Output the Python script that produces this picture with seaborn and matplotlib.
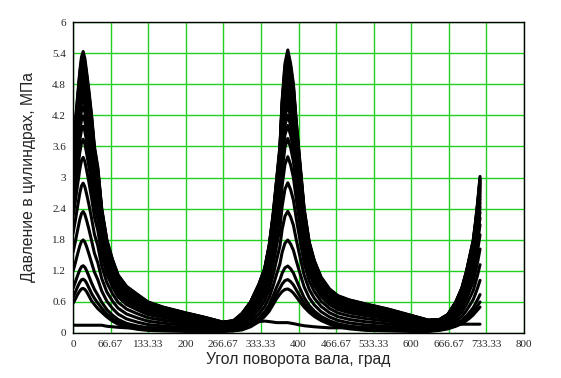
import numpy as np
import pandas as pd
import matplotlib
matplotlib.use("Agg")
import matplotlib.pyplot as plt
import seaborn as sns

# crank angle grid (deg)
angle = [0, 4, 8, 12, 15, 18, 21, 24, 28, 33,
         38, 44, 51, 60, 70, 80, 95, 115, 133, 160,
         200, 235, 266, 285, 300, 315, 330, 340, 348, 355,
         361, 367, 371, 376, 381, 386, 391, 396, 400, 405,
         410, 419, 428, 440, 455, 470, 490, 520, 560, 600,
         630, 650, 665, 679, 690, 698, 705, 710, 714, 718,
         722]

# highest curve of the family, MPa
p_top = [3.6, 4.05, 4.55, 5.05, 5.32, 5.43, 5.3, 5.05, 4.7, 4.2,
         3.6, 3.2, 2.4, 1.8, 1.42, 1.12, 0.9, 0.74, 0.6, 0.5,
         0.39, 0.3, 0.21, 0.24, 0.38, 0.6, 0.95, 1.25, 1.7, 2.3,
         2.95, 3.6, 4.5, 5.2, 5.46, 5.2, 4.8, 4.1, 3.6, 3.0,
         2.4, 1.76, 1.4, 1.08, 0.85, 0.72, 0.64, 0.56, 0.46, 0.34,
         0.25, 0.26, 0.36, 0.6, 0.88, 1.2, 1.55, 1.8, 2.15, 2.55,
         3.02]

# lowest curve of the family, MPa
p_low = [0.57, 0.65, 0.74, 0.81, 0.85, 0.86, 0.84, 0.8, 0.72, 0.62,
         0.55, 0.47, 0.4, 0.31, 0.23, 0.17, 0.11, 0.07, 0.05, 0.04,
         0.03, 0.03, 0.03, 0.04, 0.06, 0.12, 0.22, 0.32, 0.42, 0.55,
         0.66, 0.75, 0.8, 0.84, 0.85, 0.82, 0.77, 0.7, 0.64, 0.57,
         0.5, 0.4, 0.32, 0.24, 0.17, 0.12, 0.08, 0.05, 0.04, 0.03,
         0.03, 0.05, 0.08, 0.13, 0.18, 0.24, 0.3, 0.35, 0.4, 0.45,
         0.5]

# the nearly flat line along the bottom, MPa
p_flat = [0.15, 0.15, 0.15, 0.15, 0.15, 0.15, 0.15, 0.15, 0.15, 0.15,
          0.15, 0.15, 0.15, 0.13, 0.12, 0.11, 0.1, 0.1, 0.1, 0.1,
          0.1, 0.1, 0.1, 0.12, 0.16, 0.2, 0.22, 0.23, 0.22, 0.21,
          0.2, 0.2, 0.2, 0.2, 0.2, 0.19, 0.18, 0.17, 0.16, 0.15,
          0.14, 0.13, 0.12, 0.11, 0.1, 0.1, 0.1, 0.1, 0.1, 0.1,
          0.1, 0.12, 0.15, 0.17, 0.17, 0.17, 0.17, 0.17, 0.17, 0.17,
          0.17]

# peak pressures of the individual curves, MPa
peaks = [0.86, 1.04, 1.3, 1.8, 2.35, 2.9, 3.4, 3.75, 4.0, 4.2,
         4.38, 4.52, 4.65, 4.76, 4.86, 4.95, 5.03, 5.1, 5.17, 5.23,
         5.29, 5.34, 5.39, 5.45]

x_ticks = [0, 66.67, 133.33, 200, 266.67, 333.33, 400, 466.67, 533.33, 600,
           666.67, 733.33, 800]
x_labels = ["0", "66.67", "133.33", "200", "266.67", "333.33", "400", "466.67",
            "533.33", "600", "666.67", "733.33", "800"]
y_ticks = [0, 0.6, 1.2, 1.8, 2.4, 3, 3.6, 4.2, 4.8, 5.4, 6]
y_labels = ["0", "0.6", "1.2", "1.8", "2.4", "3", "3.6", "4.2", "4.8", "5.4", "6"]

# build the long table: each curve sits between the lowest and highest one
a = np.array(angle)
top = np.array(p_top)
low = np.array(p_low)
rows = []
for i, pk in enumerate(peaks):
    w = (pk - peaks[0]) / (peaks[-1] - peaks[0])
    rows.append(pd.DataFrame({"angle": a, "p": low + w * (top - low), "curve": i}))
rows.append(pd.DataFrame({"angle": a, "p": p_flat, "curve": len(peaks)}))
df = pd.concat(rows, ignore_index=True)

sns.set_style("white")
plt.rcParams["font.family"] = ["Liberation Sans", "DejaVu Sans"]

fig = plt.figure(figsize=(5.61, 3.78), dpi=100)
ax = fig.add_axes([73 / 561, 45 / 378, 451 / 561, 311 / 378])

sns.lineplot(data=df, x="angle", y="p", units="curve", estimator=None,
             color="black", lw=2.2, sort=False, ax=ax, zorder=3)

ax.set_xlim(0, 800)
ax.set_ylim(0, 6)
ax.set_xticks(x_ticks)
ax.set_xticklabels(x_labels, family="Liberation Serif", fontsize=8)
ax.set_yticks(y_ticks)
ax.set_yticklabels(y_labels, family="Liberation Serif", fontsize=8)
ax.tick_params(length=0, pad=5)
ax.grid(True, color="#1fd01f", lw=1.0)
ax.set_axisbelow(True)
for s in ax.spines.values():
    s.set_color("black")
    s.set_linewidth(1.0)
    s.set_zorder(5)

ax.set_xlabel("Угол поворота вала, град", fontsize=11.3, labelpad=2)
ax.set_ylabel("Давление в цилиндрах, МПа", fontsize=11.3, labelpad=12)

fig.savefig("out.png", dpi=100)
